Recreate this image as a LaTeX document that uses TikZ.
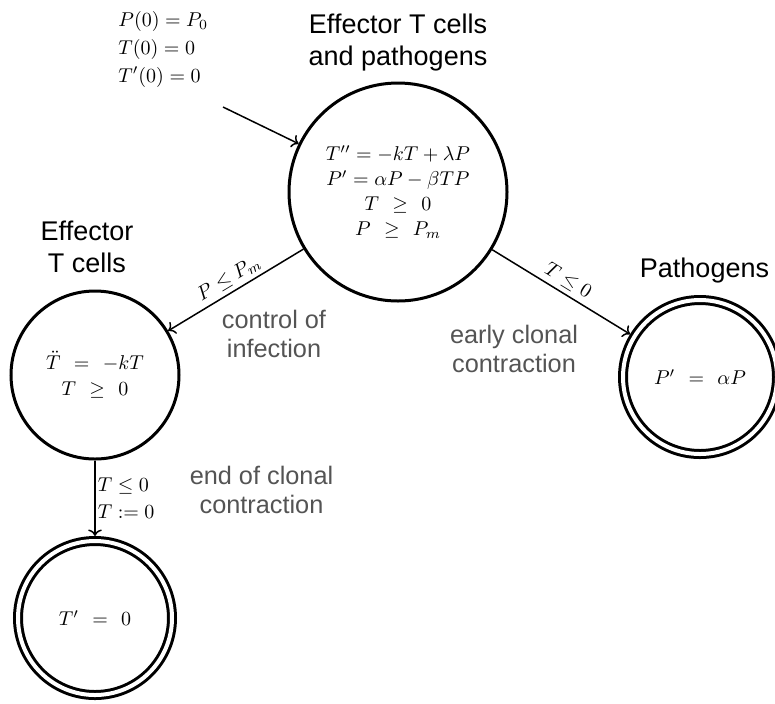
\documentclass[tikz,border=0pt]{standalone}
\usepackage[no-math]{fontspec}
\newfontfamily\labelsans{Liberation Sans}
\usetikzlibrary{arrows.meta}
% extra room around a relation sign
\newcommand\gp{\mkern7mu}

\begin{document}
\begin{tikzpicture}[x=0.5pt,y=-0.5pt,
  state/.style={circle, draw, line width=1.5pt, inner sep=0pt,
    font=\fontsize{10}{12.5}\selectfont, align=center},
  finalstate/.style={state, double, double distance=2pt, outer sep=2.5pt},
  title/.style={font=\labelsans\fontsize{13.5}{15.75}\selectfont,
    align=center, anchor=base, inner sep=0pt},
  note/.style={font=\labelsans\fontsize{12.65}{14.5}\selectfont,
    text=black!67, align=center, anchor=base, inner sep=0pt},
  trans/.style={->, line width=0.75pt},
  guard/.style={font=\fontsize{10}{12}\selectfont, inner sep=2pt}
]
\useasboundingbox (0,0) rectangle (775,703);

% states
\node[state, minimum size=109pt] (both) at (398,192)
  {$T''=-kT+\lambda P$\\$P'=\alpha P-\beta TP$\\$T\gp\geq\gp 0$\\$P\gp\geq\gp P_m$};
\node[state, minimum size=84pt, font=\fontsize{10}{13}\selectfont] (tcells) at (95,375)
  {$\ddot{T}\gp=\gp -kT$\\$T\gp\geq\gp 0$};
\node[finalstate, minimum size=77pt] (pathogens) at (700,377) {$P'\gp=\gp\alpha P$};
\node[finalstate, minimum size=77pt] (cleared) at (95,618) {$T'\gp=\gp 0$};

% state titles (anchored on the baseline of their last line)
\node[title] (toplabel) at (398,65) {Effector T cells\\and pathogens};
\node[title] (leftlabel) at (87,272) {Effector\\T cells};
\node[title] (rightlabel) at (704.5,277) {Pathogens};

% grey comments on the transitions
\node[note] (control) at (274,357) {control of\\infection};
\node[note] (early) at (514,372) {early clonal\\contraction};
\node[note] (endclonal) at (261.5,513) {end of clonal\\contraction};

% initial conditions
\node[anchor=base west, align=left, inner sep=0pt, font=\fontsize{10}{14}\selectfont]
  (init) at (118,82) {$P(0)=P_0$\\$T(0)=0$\\$T'(0)=0$};
\coordinate (start) at (223,107);

% transitions
\draw[trans] (start) -- (both);
\draw[trans] (both) -- node[guard, midway, above, sloped] {$P\leq P_m$} (tcells);
\draw[trans] (both) -- node[guard, midway, above, sloped] {$T\leq 0$} (pathogens);
\draw[trans] (tcells) -- node[guard, midway, right, align=left, inner sep=1pt,
    font=\fontsize{10}{13.5}\selectfont] {$T\leq 0$\\$T:=0$} (cleared);
\end{tikzpicture}
\end{document}
